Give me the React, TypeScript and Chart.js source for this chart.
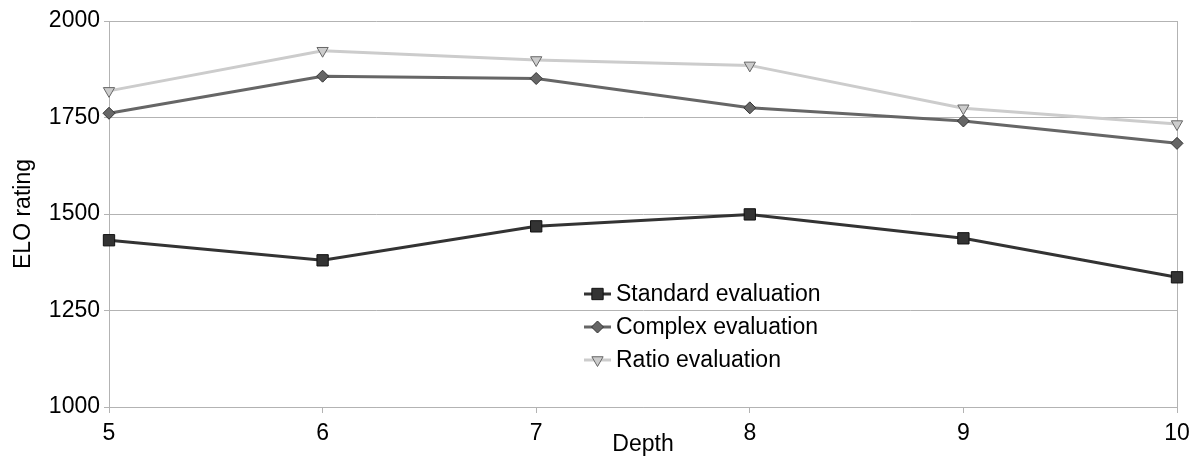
import React, { useEffect, useRef } from 'react';
import { Chart, registerables } from 'chart.js';

Chart.register(...registerables);

const depths = ['5', '6', '7', '8', '9', '10'];
const standardEval = [1432, 1380, 1468, 1499, 1437, 1336];
const complexEval = [1761, 1857, 1851, 1775, 1741, 1683];
const ratioEval = [1819, 1923, 1899, 1885, 1774, 1733];
const yTicks = [1000, 1250, 1500, 1750, 2000];

const FONT = '"Liberation Sans", Arial, sans-serif';
const GRID = '#b3b3b3';
const FS = 23;

function drawMarker(ctx: CanvasRenderingContext2D, ds: any, x: number, y: number) {
  ctx.save();
  ctx.fillStyle = ds.pointBackgroundColor;
  ctx.strokeStyle = ds.pointBorderColor;
  ctx.lineWidth = 1;
  ctx.beginPath();
  const r = ds.pointRadius;
  if (ds.pointStyle === 'rect') {
    const s = r * Math.SQRT1_2;
    ctx.rect(x - s, y - s, 2 * s, 2 * s);
  } else if (ds.pointStyle === 'rectRot') {
    ctx.moveTo(x, y - r);
    ctx.lineTo(x + r, y);
    ctx.lineTo(x, y + r);
    ctx.lineTo(x - r, y);
    ctx.closePath();
  } else {
    const h = r * Math.sqrt(3) / 2;
    ctx.moveTo(x - h, y - r / 2);
    ctx.lineTo(x + h, y - r / 2);
    ctx.lineTo(x, y + r);
    ctx.closePath();
  }
  ctx.fill();
  ctx.stroke();
  ctx.restore();
}

const innerLegend = {
  id: 'innerLegend',
  afterDatasetsDraw(chart: any) {
    const { ctx, chartArea } = chart;
    const x0 = chartArea.left + 475;
    const y0 = chartArea.top + 273;
    chart.data.datasets.forEach((ds: any, i: number) => {
      const y = y0 + i * 33;
      ctx.save();
      ctx.strokeStyle = ds.borderColor;
      ctx.lineWidth = 3;
      ctx.beginPath();
      ctx.moveTo(x0, y);
      ctx.lineTo(x0 + 27, y);
      ctx.stroke();
      ctx.restore();
      drawMarker(ctx, ds, x0 + 13.5, y);
      ctx.save();
      ctx.fillStyle = '#000';
      ctx.font = `${FS}px ${FONT}`;
      ctx.textBaseline = 'middle';
      ctx.textAlign = 'left';
      ctx.fillText(ds.label, x0 + 32, y + 1);
      ctx.restore();
    });
  },
};

export default function App() {
  const ref = useRef<HTMLCanvasElement>(null);

  useEffect(() => {
    if (!ref.current) return;
    const chart = new Chart(ref.current, {
      type: 'line',
      data: {
        labels: depths,
        datasets: [
          {
            label: 'Standard evaluation',
            data: standardEval,
            borderColor: '#333333',
            borderWidth: 3,
            pointStyle: 'rect',
            pointRadius: 8,
            pointBackgroundColor: '#333333',
            pointBorderColor: '#111111',
            pointBorderWidth: 1,
            tension: 0,
          },
          {
            label: 'Complex evaluation',
            data: complexEval,
            borderColor: '#666666',
            borderWidth: 3,
            pointStyle: 'rectRot',
            pointRadius: 6,
            pointBackgroundColor: '#666666',
            pointBorderColor: '#333333',
            pointBorderWidth: 1,
            tension: 0,
          },
          {
            label: 'Ratio evaluation',
            data: ratioEval,
            borderColor: '#cccccc',
            borderWidth: 3,
            pointStyle: 'triangle',
            pointRotation: 180,
            pointRadius: 6.5,
            pointBackgroundColor: '#cccccc',
            pointBorderColor: '#666666',
            pointBorderWidth: 1,
            tension: 0,
          } as any,
        ],
      },
      options: {
        animation: false,
        responsive: false,
        layout: { padding: { top: 21, right: 22, left: 0, bottom: 0 } },
        plugins: {
          legend: { display: false },
          tooltip: { enabled: false },
        },
        scales: {
          x: {
            offset: false,
            afterFit: (s: any) => { s.height = 54; },
            grid: {
              drawOnChartArea: true,
              color: (c: any) => (c.index === depths.length - 1 ? GRID : 'rgba(0,0,0,0)'),
              tickColor: GRID,
              tickLength: 6,
              lineWidth: 1,
            },
            border: { display: true, color: GRID },
            ticks: {
              color: '#000',
              font: { family: FONT, size: FS },
              padding: 7,
              maxRotation: 0,
              autoSkip: false,
            },
            title: {
              display: true,
              text: 'Depth',
              color: '#000',
              font: { family: FONT, size: FS },
              padding: { top: 0, bottom: 3 },
            },
          },
          y: {
            min: 1000,
            max: 2000,
            afterFit: (s: any) => { s.width = 109; },
            afterBuildTicks: (s: any) => { s.ticks = yTicks.map((v) => ({ value: v })); },
            grid: { color: GRID, tickColor: GRID, tickLength: 5, lineWidth: 1 },
            border: { display: true, color: GRID },
            ticks: {
              color: '#000',
              font: { family: FONT, size: FS },
              padding: 4,
              callback: (v: any) => String(v),
            },
            title: {
              display: true,
              text: 'ELO rating',
              color: '#000',
              font: { family: FONT, size: FS },
              padding: { top: 10, bottom: 0 },
            },
          },
        },
      },
      plugins: [innerLegend],
    });
    return () => chart.destroy();
  }, []);

  return (
    <div style={{ position: 'absolute', left: 0, top: 0, width: 1199, height: 461, background: '#fff' }}>
      <canvas ref={ref} width={1199} height={461} style={{ display: 'block' }} />
    </div>
  );
}
